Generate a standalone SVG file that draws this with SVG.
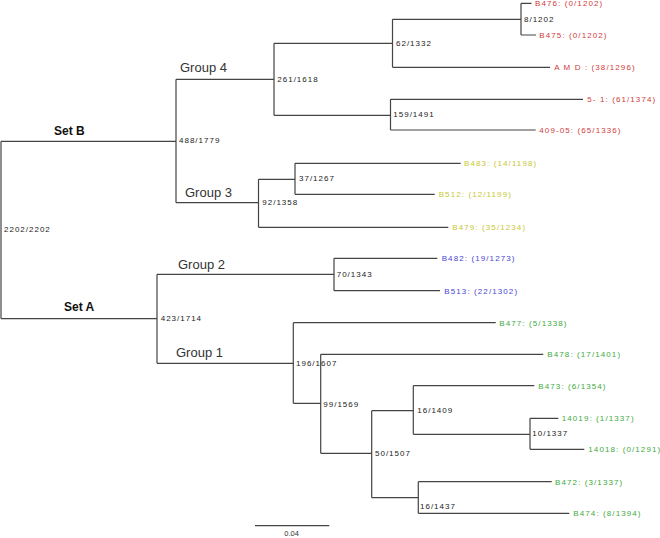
<svg xmlns="http://www.w3.org/2000/svg" width="660" height="538" viewBox="0 0 660 538">
<style>
.br{fill:none;stroke:#444;stroke-width:1.2}
.n{font-family:"Liberation Sans",Arial,sans-serif;font-size:8px;letter-spacing:1px;fill:#222}
.lf{font-family:"Liberation Sans",Arial,sans-serif;font-size:8px;letter-spacing:1.1px}
.r{fill:#d03a3a}.y{fill:#c8c832}.b{fill:#4646d2}.g{fill:#3eaa3e}
.grp{font-family:"Liberation Sans",Arial,sans-serif;font-size:13px;fill:#333}
.set{font-family:"Liberation Sans",Arial,sans-serif;font-size:12px;font-weight:bold;fill:#111}
</style>
<rect width="660" height="538" fill="#fff"/>
<g id="connectors" class="br">
<path d="M1 141.3V318.7M1 141.3H176M1 318.7H157"/>
<path d="M176 79.3V202.7M176 79.3H274M176 202.7H258.5"/>
<path d="M274 43.3V115.3M274 43.3H392.5M274 115.3H390.5"/>
<path d="M392.5 19.3V67.3M392.5 19.3H521M392.5 67.3H550"/>
<path d="M521 3.3V35M521 3.3H531.5M521 35H536"/>
<path d="M390.5 99.3V130M390.5 99.3H583M390.5 130H535.7"/>
<path d="M258.5 179.3V227.3M258.5 179.3H295M258.5 227.3H448.3"/>
<path d="M295 163.3V194.3M295 163.3H460.7M295 194.3H434.7"/>
<path d="M157 274.3V363.3M157 274.3H334M157 363.3H293.3"/>
<path d="M334 258.3V290.7M334 258.3H437.3M334 290.7H440"/>
<path d="M293.3 322.7V403.3M293.3 322.7H495.7M293.3 403.3H320.7"/>
<path d="M320.7 354.3V453.3M320.7 354.3H543.3M320.7 453.3H371.7"/>
<path d="M371.7 410.7V497.7M371.7 410.7H413.3M371.7 497.7H418.3"/>
<path d="M413.3 385.7V434.3M413.3 385.7H534.3M413.3 434.3H530"/>
<path d="M530 418.3V449.3M530 418.3H558.3M530 449.3H584.3"/>
<path d="M418.3 481.7V513.3M418.3 481.7H551.7M418.3 513.3H569.3"/>
<path d="M255 525.7H329.3"/>
</g>
<g id="set-labels">
<text class="set" x="54" y="135">Set B</text>
<text class="set" x="64" y="311">Set A</text>
</g>
<g id="group-labels">
<text class="grp" x="180" y="71.7">Group 4</text>
<text class="grp" x="185" y="196.7">Group 3</text>
<text class="grp" x="178" y="269">Group 2</text>
<text class="grp" x="176" y="357">Group 1</text>
</g>
<g id="node-root"><text class="n" x="4" y="231.7">2202/2202</text></g>
<g id="node-488"><text class="n" x="179" y="143.4">488/1779</text></g>
<g id="node-423"><text class="n" x="160.7" y="321.1">423/1714</text></g>
<g id="node-261"><text class="n" x="277.3" y="81.9">261/1618</text></g>
<g id="node-62"><text class="n" x="396" y="45.9">62/1332</text></g>
<g id="node-8"><text class="n" x="524" y="21.9">8/1202</text></g>
<g id="node-159"><text class="n" x="393.3" y="117.4">159/1491</text></g>
<g id="node-92"><text class="n" x="262.3" y="204.9">92/1358</text></g>
<g id="node-37"><text class="n" x="299" y="180.7">37/1267</text></g>
<g id="node-70"><text class="n" x="336.7" y="277.1">70/1343</text></g>
<g id="node-196"><text class="n" x="296" y="366.1">196/1607</text></g>
<g id="node-99"><text class="n" x="323.3" y="406.7">99/1569</text></g>
<g id="node-50"><text class="n" x="375" y="456.2">50/1507</text></g>
<g id="node-16a"><text class="n" x="417.3" y="412.9">16/1409</text></g>
<g id="node-10"><text class="n" x="532.3" y="435.9">10/1337</text></g>
<g id="node-16b"><text class="n" x="420" y="508.7">16/1437</text></g>
<g id="leaf-B476"><text class="lf r" x="535" y="6.2">B476: (0/1202)</text></g>
<g id="leaf-B475"><text class="lf r" x="539.3" y="37.9">B475: (0/1202)</text></g>
<g id="leaf-AMD"><text class="lf r" x="554.3" y="70.2">A M D : (38/1296)</text></g>
<g id="leaf-5-1"><text class="lf r" x="587.3" y="102.2">5- 1: (61/1374)</text></g>
<g id="leaf-409-05"><text class="lf r" x="539.3" y="132.9">409-05: (65/1336)</text></g>
<g id="leaf-B483"><text class="lf y" x="464" y="166.2">B483: (14/1198)</text></g>
<g id="leaf-B512"><text class="lf y" x="438.7" y="197.2">B512: (12/1199)</text></g>
<g id="leaf-B479"><text class="lf y" x="452.3" y="230.2">B479: (35/1234)</text></g>
<g id="leaf-B482"><text class="lf b" x="441.7" y="261.2">B482: (19/1273)</text></g>
<g id="leaf-B513"><text class="lf b" x="444.3" y="293.6">B513: (22/1302)</text></g>
<g id="leaf-B477"><text class="lf g" x="499.3" y="325.6">B477: (5/1338)</text></g>
<g id="leaf-B478"><text class="lf g" x="547.3" y="357.2">B478: (17/1401)</text></g>
<g id="leaf-B473"><text class="lf g" x="538.3" y="388.6">B473: (6/1354)</text></g>
<g id="leaf-14019"><text class="lf g" x="561.7" y="421.2">14019: (1/1337)</text></g>
<g id="leaf-14018"><text class="lf g" x="588.3" y="452.2">14018: (0/1291)</text></g>
<g id="leaf-B472"><text class="lf g" x="555" y="484.6">B472: (3/1337)</text></g>
<g id="leaf-B474"><text class="lf g" x="573.3" y="516.2">B474: (8/1394)</text></g>
<g id="scale"><text x="284.3" y="536" font-family="Liberation Sans, Arial, sans-serif" font-size="7.5" fill="#333">0.04</text></g>
</svg>
